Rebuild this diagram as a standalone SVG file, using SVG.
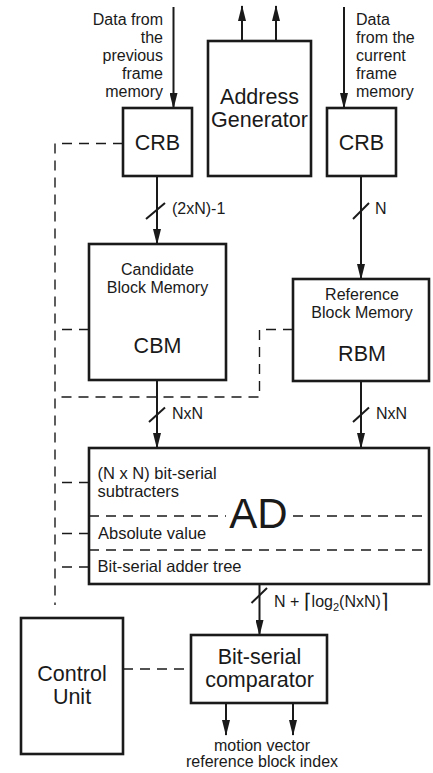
<svg xmlns="http://www.w3.org/2000/svg" width="433" height="773" viewBox="0 0 433 773">
<defs>
<marker id="ah" markerUnits="userSpaceOnUse" markerWidth="16" markerHeight="8" refX="15" refY="4" orient="auto">
<path d="M0,0 L16,4 L0,8 z" fill="#1a1a1a"/>
</marker>
<style>
.box{fill:#fff;stroke:#1a1a1a;stroke-width:2.6}
.arr{stroke:#1a1a1a;stroke-width:2;fill:none;marker-end:url(#ah)}
.ln{stroke:#1a1a1a;stroke-width:2;fill:none}
.dash{stroke:#1a1a1a;stroke-width:1.4;fill:none;stroke-dasharray:10 7}
text{font-family:"Liberation Sans",Arial,sans-serif;fill:#1a1a1a}
.t{font-size:16px}
.big{font-size:21.5px;text-anchor:middle}
.mid{font-size:16px;text-anchor:middle}
</style>
</defs>
<rect width="433" height="773" fill="#fff"/>

<g id="connectors">
<path class="dash" d="M123,143.5 H55 V605"/>
<path class="dash" d="M89,329.5 H55"/>
<path class="dash" d="M293,329.5 H259.5 V397 H55"/>
<path class="dash" d="M89,482.5 H55"/>
<path class="dash" d="M89,533.5 H55"/>
<path class="dash" d="M89,567 H55"/>
<path class="dash" d="M123,669 H191"/>
<line class="arr" x1="173.5" y1="7" x2="173.5" y2="108"/>
<line class="arr" x1="344" y1="7" x2="344" y2="108"/>
<line class="arr" x1="242" y1="41" x2="242" y2="6"/>
<line class="arr" x1="276" y1="41" x2="276" y2="6"/>
<line class="arr" x1="157" y1="176" x2="157" y2="244"/>
<line class="ln" x1="146" y1="219" x2="165" y2="203"/>
<text class="t" x="172" y="213.5">(2xN)-1</text>
<line class="arr" x1="361" y1="176" x2="361" y2="279"/>
<line class="ln" x1="353" y1="219" x2="369" y2="203"/>
<text class="t" x="375" y="213.5">N</text>
<line class="arr" x1="157" y1="380" x2="157" y2="448"/>
<line class="ln" x1="149" y1="422" x2="165" y2="407.5"/>
<text class="t" x="172" y="418.5">NxN</text>
<line class="arr" x1="361" y1="381" x2="361" y2="448"/>
<line class="ln" x1="353" y1="422" x2="369" y2="407.5"/>
<text class="t" x="376" y="418.5">NxN</text>
<line class="arr" x1="259.5" y1="584" x2="259.5" y2="635"/>
<line class="ln" x1="251.5" y1="603" x2="267" y2="588"/>
<text class="t" x="274" y="607">N + <tspan font-family="'DejaVu Sans',sans-serif" font-size="20px" dy="1">⌈</tspan><tspan dy="-1">log</tspan><tspan font-size="11px" dy="4">2</tspan><tspan dy="-4">(NxN)</tspan><tspan font-family="'DejaVu Sans',sans-serif" font-size="20px" dy="1">⌉</tspan></text>
<line class="arr" x1="226" y1="703" x2="226" y2="735"/>
<line class="arr" x1="293" y1="703" x2="293" y2="735"/>
<g font-size="16px" text-anchor="end">
<text x="163" y="25">Data from</text>
<text x="163" y="43">the</text>
<text x="163" y="61">previous</text>
<text x="163" y="79">frame</text>
<text x="163" y="96.5">memory</text>
</g>
<g font-size="16px">
<text x="356" y="25">Data</text>
<text x="356" y="43">from the</text>
<text x="356" y="61">current</text>
<text x="356" y="79">frame</text>
<text x="356" y="96.5">memory</text>
</g>
<text class="mid" x="262" y="751" font-size="16.5px">motion vector</text>
<text class="mid" x="262" y="767" font-size="16.5px">reference block index</text>
</g>

<g id="crb-prev">
<rect class="box" x="123" y="108" width="69" height="68"/>
<text class="big" x="157.5" y="149.5">CRB</text>
</g>
<g id="address-generator">
<rect class="box" x="208" y="41" width="103" height="135"/>
<text class="big" x="259.5" y="104">Address</text>
<text class="big" x="259.5" y="127">Generator</text>
</g>
<g id="crb-cur">
<rect class="box" x="327" y="108" width="69" height="68"/>
<text class="big" x="361.5" y="149.5">CRB</text>
</g>
<g id="cbm">
<rect class="box" x="89" y="244" width="137" height="136"/>
<text class="mid" x="157.5" y="275">Candidate</text>
<text class="mid" x="157.5" y="293">Block Memory</text>
<text class="big" x="157.5" y="353">CBM</text>
</g>
<g id="rbm">
<rect class="box" x="293" y="279" width="136" height="102"/>
<text class="mid" x="362" y="299.5">Reference</text>
<text class="mid" x="362" y="317.5">Block Memory</text>
<text class="big" x="362" y="360.5">RBM</text>
</g>
<g id="ad">
<rect class="box" x="89" y="448" width="340" height="136"/>
<path class="dash" d="M89,516 H226 M293,516 H429 M89,550 H429"/>
<text x="97.5" y="479" font-size="16.5px">(N x N) bit-serial</text>
<text x="97.5" y="497" font-size="16.5px">subtracters</text>
<text x="98" y="538.5" font-size="16.5px">Absolute value</text>
<text x="97.5" y="572" font-size="16.5px">Bit-serial adder tree</text>
<text x="258.5" y="527.5" font-size="42px" text-anchor="middle">AD</text>
</g>
<g id="comparator">
<rect class="box" x="191" y="635" width="136" height="68"/>
<text class="big" x="259.5" y="664">Bit-serial</text>
<text class="big" x="259.5" y="686.5">comparator</text>
</g>
<g id="control-unit">
<rect class="box" x="21" y="618" width="102" height="136"/>
<text class="big" x="72" y="681">Control</text>
<text class="big" x="72" y="703.5">Unit</text>
</g>
</svg>
